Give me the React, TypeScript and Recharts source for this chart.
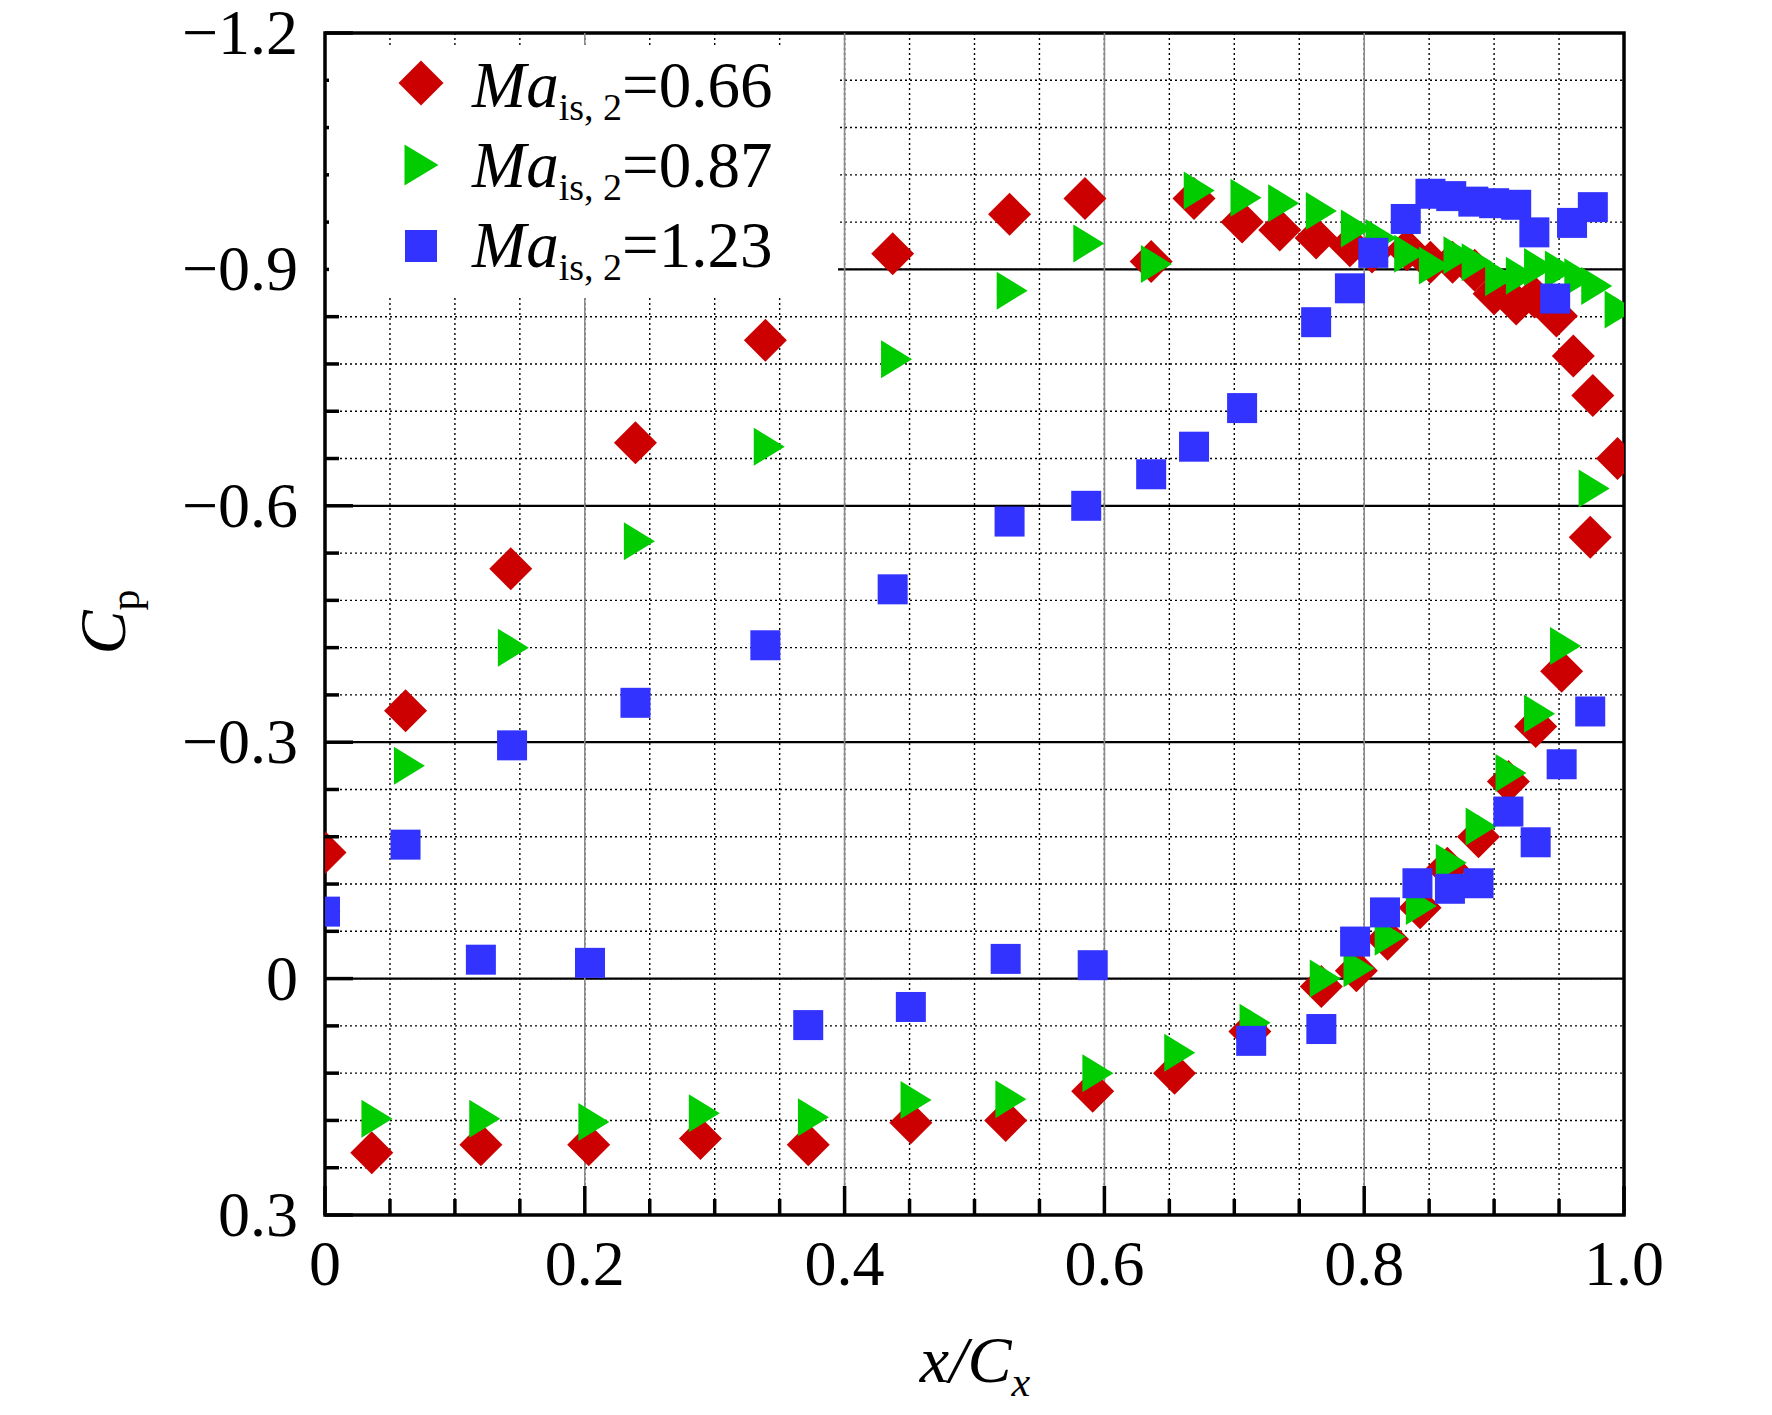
import React from 'react';
import {
  ScatterChart,
  Scatter,
  XAxis,
  YAxis,
  CartesianGrid,
  ReferenceLine,
  ReferenceArea,
  Legend,
} from 'recharts';

const FONT = '"Liberation Serif", "Times New Roman", Times, serif';

// ---- data: [x/Cx, Cp] ----
const ma066: [number, number][] = [
  [0.0, -0.16], [0.062, -0.34], [0.143, -0.52], [0.239, -0.68], [0.339, -0.81],
  [0.437, -0.92], [0.527, -0.97], [0.585, -0.99], [0.636, -0.91], [0.669, -0.99],
  [0.706, -0.96], [0.735, -0.95], [0.763, -0.94], [0.789, -0.93], [0.806, -0.922],
  [0.833, -0.925], [0.851, -0.909], [0.868, -0.909], [0.885, -0.899], [0.9, -0.869],
  [0.917, -0.856], [0.931, -0.865], [0.948, -0.841], [0.961, -0.79], [0.976, -0.74],
  [0.995, -0.66], [0.974, -0.56], [0.952, -0.39], [0.932, -0.32], [0.911, -0.25],
  [0.888, -0.18], [0.864, -0.14], [0.843, -0.09], [0.818, -0.05], [0.794, -0.01],
  [0.767, 0.01], [0.712, 0.067], [0.654, 0.12], [0.591, 0.143], [0.524, 0.18],
  [0.451, 0.183], [0.372, 0.211], [0.289, 0.203], [0.203, 0.211], [0.12, 0.211],
  [0.036, 0.221],
];

const ma087: [number, number][] = [
  [0.0, -0.085], [0.065, -0.27], [0.145, -0.42], [0.242, -0.555], [0.342, -0.675],
  [0.44, -0.786], [0.529, -0.873], [0.588, -0.933], [0.64, -0.907], [0.673, -1.0],
  [0.709, -0.991], [0.738, -0.984], [0.767, -0.974], [0.794, -0.952], [0.813, -0.94],
  [0.835, -0.92], [0.854, -0.905], [0.873, -0.918], [0.887, -0.909], [0.905, -0.89],
  [0.921, -0.892], [0.935, -0.903], [0.951, -0.9], [0.966, -0.89], [0.979, -0.879],
  [0.997, -0.849], [0.977, -0.622], [0.955, -0.422], [0.935, -0.336], [0.913, -0.261],
  [0.89, -0.193], [0.867, -0.147], [0.844, -0.092], [0.82, -0.053], [0.796, -0.013],
  [0.77, 0.0], [0.716, 0.056], [0.658, 0.094], [0.595, 0.12], [0.528, 0.153],
  [0.455, 0.154], [0.376, 0.176], [0.292, 0.171], [0.207, 0.182], [0.123, 0.178],
  [0.04, 0.178],
];

const ma123: [number, number][] = [
  [0.0, -0.085], [0.062, -0.17], [0.144, -0.296], [0.239, -0.35], [0.339, -0.423],
  [0.437, -0.494], [0.527, -0.58], [0.586, -0.6], [0.636, -0.64], [0.669, -0.675],
  [0.706, -0.724], [0.763, -0.833], [0.789, -0.876], [0.807, -0.921], [0.832, -0.964],
  [0.851, -0.996], [0.867, -0.993], [0.884, -0.986], [0.9, -0.984], [0.917, -0.982],
  [0.931, -0.947], [0.947, -0.863], [0.96, -0.959], [0.976, -0.979],
  [0.974, -0.339], [0.952, -0.272], [0.932, -0.173], [0.911, -0.212], [0.888, -0.121],
  [0.866, -0.114], [0.841, -0.121], [0.816, -0.084], [0.793, -0.047], [0.767, 0.064],
  [0.713, 0.079], [0.591, -0.017], [0.524, -0.025], [0.451, 0.036], [0.372, 0.059],
  [0.204, -0.02], [0.12, -0.024],
];

const seriesNames = ['0.66', '0.87', '1.23'];
const seriesColors = ['#CC0000', '#00CC00', '#3333FF'];

// ---- ticks ----
const xTicks = [0, 0.05, 0.1, 0.15, 0.2, 0.25, 0.3, 0.35, 0.4, 0.45, 0.5, 0.55, 0.6, 0.65, 0.7, 0.75, 0.8, 0.85, 0.9, 0.95, 1.0];
const xMajor = [0, 0.2, 0.4, 0.6, 0.8, 1.0];
const xMajorLabels = ['0', '0.2', '0.4', '0.6', '0.8', '1.0'];
const yTicks = [-1.2, -1.14, -1.08, -1.02, -0.96, -0.9, -0.84, -0.78, -0.72, -0.66, -0.6, -0.54, -0.48, -0.42, -0.36, -0.3, -0.24, -0.18, -0.12, -0.06, 0, 0.06, 0.12, 0.18, 0.24, 0.3];
const yMajor = [-1.2, -0.9, -0.6, -0.3, 0, 0.3];
const yMajorLabels = ['\u22121.2', '\u22120.9', '\u22120.6', '\u22120.3', '0', '0.3'];
const yMajorLines = [-0.9, -0.6, -0.3, 0];
const xMajorLines = [0.2, 0.4, 0.6, 0.8];

const toPts = (arr: [number, number][]) => arr.map(([x, y]) => ({ x, y }));

const findIdx = (list: number[], v: number) => list.findIndex((m) => Math.abs(m - v) < 1e-6);

const XTick = (props: any) => {
  const { x, y, payload } = props;
  const i = findIdx(xMajor, payload.value);
  const major = i >= 0;
  return (
    <g>
      <line x1={x} y1={y} x2={x} y2={y - (major ? 29 : 16)} stroke="#000" strokeWidth={3.5} />
      {major && (
        <text x={x} y={y + 70} textAnchor="middle" fontSize={64} fontFamily={FONT} fill="#000">
          {xMajorLabels[i]}
        </text>
      )}
    </g>
  );
};

const YTick = (props: any) => {
  const { x, y, payload } = props;
  const i = findIdx(yMajor, payload.value);
  const major = i >= 0;
  return (
    <g>
      <line x1={x} y1={y} x2={x + (major ? 28 : 14)} y2={y} stroke="#000" strokeWidth={3.5} />
      {major && (
        <text x={x - 27} y={y + 21} textAnchor="end" fontSize={64} fontFamily={FONT} fill="#000">
          {yMajorLabels[i]}
        </text>
      )}
    </g>
  );
};

const Diamond = (props: any) => {
  const { cx, cy, fill } = props;
  if (cx == null || cy == null) return null;
  const h = 21.5;
  return <path d={`M${cx},${cy - h}L${cx + h},${cy}L${cx},${cy + h}L${cx - h},${cy}Z`} fill={fill} />;
};
const TriRight = (props: any) => {
  const { cx, cy, fill } = props;
  if (cx == null || cy == null) return null;
  const w = 15.5;
  const h = 19;
  return <path d={`M${cx - w},${cy - h}L${cx + w},${cy}L${cx - w},${cy + h}Z`} fill={fill} />;
};
const Square = (props: any) => {
  const { cx, cy, fill } = props;
  if (cx == null || cy == null) return null;
  const s = 15;
  return <rect x={cx - s} y={cy - s} width={2 * s} height={2 * s} fill={fill} />;
};

const renderLegend = () => {
  const rowY = [38, 120, 201];
  const baseY = [62, 142, 222];
  return (
    <div style={{ width: 509, height: 253, background: '#fff' }}>
      <svg width={509} height={253} style={{ display: 'block' }}>
        {seriesNames.map((name, i) => {
          const cx = 92;
          const cy = rowY[i];
          const c = seriesColors[i];
          let marker;
          if (i === 0) {
            const h = 22.5;
            marker = <path d={`M${cx},${cy - h}L${cx + h},${cy}L${cx},${cy + h}L${cx - h},${cy}Z`} fill={c} />;
          } else if (i === 1) {
            marker = <path d={`M${cx - 16.5},${cy - 20.5}L${cx + 17.5},${cy}L${cx - 16.5},${cy + 20.5}Z`} fill={c} />;
          } else {
            marker = <rect x={cx - 16} y={cy - 16} width={32} height={32} fill={c} />;
          }
          return (
            <g key={name}>
              {marker}
              <text x={143} y={baseY[i]} fontSize={65} fontFamily={FONT} fill="#000">
                <tspan fontStyle="italic">Ma</tspan>
                <tspan fontSize={38} dy={13}>is, 2</tspan>
                <tspan dy={-13}>={name}</tspan>
              </text>
            </g>
          );
        })}
      </svg>
    </div>
  );
};

const XTitle = () => (
  <text x={975} y={1382} textAnchor="middle" fontSize={66} fontFamily={FONT} fill="#000">
    <tspan fontStyle="italic">x/C</tspan>
    <tspan fontStyle="italic" fontSize={42} dy={14}>x</tspan>
  </text>
);

const YTitle = () => (
  <text
    x={125}
    y={622}
    transform="rotate(-90 125 622)"
    textAnchor="middle"
    fontSize={66}
    fontFamily={FONT}
    fill="#000"
  >
    <tspan fontStyle="italic">C</tspan>
    <tspan fontSize={42} dy={14}>p</tspan>
  </text>
);

export default function App() {
  const shapes = [Diamond, TriRight, Square];
  const datas = [ma066, ma087, ma123];
  return (
    <div style={{ position: 'absolute', left: 0, top: 0, width: 1772, height: 1415, background: '#fff' }}>
      <ScatterChart width={1772} height={1415} margin={{ top: 33, right: 148, bottom: 0, left: 0 }}>
        <CartesianGrid stroke="#000" strokeWidth={1.4} strokeDasharray="2 3" fill="none" />
        {yMajorLines.map((v) => (
          <ReferenceLine key={'y' + v} y={v} stroke="#000" strokeWidth={2.2} />
        ))}
        {xMajorLines.map((v) => (
          <ReferenceLine key={'x' + v} x={v} stroke="#8a8a8a" strokeWidth={1.6} />
        ))}
        <XAxis
          type="number"
          dataKey="x"
          domain={[0, 1]}
          ticks={xTicks}
          interval={0}
          allowDataOverflow
          height={200}
          tickSize={0}
          tickMargin={0}
          tickLine={false}
          axisLine={false}
          tick={<XTick />}
          label={{ content: () => <XTitle /> }}
        />
        <YAxis
          type="number"
          dataKey="y"
          domain={[-1.2, 0.3]}
          reversed
          ticks={yTicks}
          interval={0}
          allowDataOverflow
          width={325}
          tickSize={0}
          tickMargin={0}
          tickLine={false}
          axisLine={false}
          tick={<YTick />}
          label={{ content: () => <YTitle /> }}
        />
        {datas.map((d, i) => (
          <Scatter
            key={seriesNames[i]}
            name={seriesNames[i]}
            data={toPts(d)}
            fill={seriesColors[i]}
            shape={shapes[i]}
            isAnimationActive={false}
          />
        ))}
        <ReferenceArea x1={0} x2={1} y1={-1.2} y2={0.3} fill="none" fillOpacity={0} stroke="#000" strokeWidth={3.5} />
        <Legend
          layout="horizontal"
          verticalAlign="middle"
          align="center"
          content={renderLegend}
          wrapperStyle={{ left: 329, top: 45, width: 509, height: 253 }}
        />
      </ScatterChart>
    </div>
  );
}
